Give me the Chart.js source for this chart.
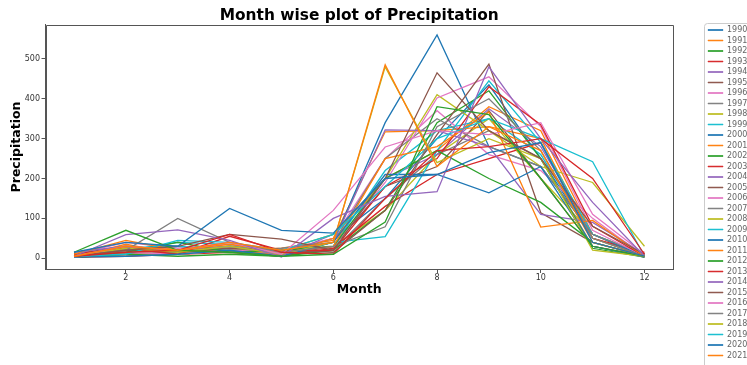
<!DOCTYPE html>
<html>
<head>
<meta charset="utf-8">
<script src="https://cdn.jsdelivr.net/npm/chart.js@4/dist/chart.umd.min.js"></script>
<style>
html,body{margin:0;padding:0;background:#fff;overflow:hidden;}
canvas{display:block;}
</style>
</head>
<body>
<canvas id="c" width="747" height="365"></canvas>
<script>
// ---- data ----
const months = [1,2,3,4,5,6,7,8,9,10,11,12];
const xTicks = [2,4,6,8,10,12];
const yTicks = [0,100,200,300,400,500];
const years = [1990,1991,1992,1993,1994,1995,1996,1997,1998,1999,2000,2001,2002,2003,2004,2005,2006,2007,2008,2009,2010,2011,2012,2013,2014,2015,2016,2017,2018,2019,2020,2021];

const p1990 = [15, 40, 30, 125, 70, 63, 200, 210, 265, 290, 40, 5];
const p1991 = [5, 30, 20, 40, 20, 40, 485, 230, 330, 270, 40, 5];
const p1992 = [15, 70, 20, 15, 5, 10, 91, 380, 360, 200, 30, 5];
const p1993 = [5, 15, 20, 60, 15, 10, 150, 270, 280, 300, 200, 10];
const p1994 = [5, 59, 71, 45, 3, 100, 155, 167, 480, 300, 140, 5];
const p1995 = [5, 20, 30, 60, 48, 20, 200, 465, 320, 250, 80, 10];
const p1996 = [5, 30, 20, 40, 10, 120, 279, 320, 310, 340, 110, 10];
const p1997 = [5, 20, 100, 40, 15, 30, 79, 330, 400, 270, 50, 5];
const p1998 = [5, 25, 15, 30, 10, 40, 480, 240, 300, 250, 20, 5];
const p1999 = [5, 10, 45, 40, 20, 60, 180, 300, 350, 300, 242, 5];
const p2000 = [3, 5, 10, 20, 5, 40, 210, 210, 164, 230, 30, 3];
const p2001 = [10, 45, 20, 35, 15, 30, 250, 280, 367, 78, 95, 5];
const p2002 = [5, 15, 40, 15, 20, 30, 200, 270, 200, 140, 40, 5];
const p2003 = [10, 25, 10, 55, 20, 20, 180, 250, 430, 335, 80, 5];
const p2004 = [15, 30, 20, 30, 10, 40, 322, 320, 280, 110, 90, 10];
const p2005 = [10, 30, 15, 25, 20, 15, 120, 310, 487, 114, 40, 5];
const p2006 = [3, 15, 10, 20, 15, 30, 190, 402, 455, 330, 70, 5];
const p2007 = [10, 25, 20, 15, 25, 40, 250, 350, 280, 230, 60, 10];
const p2008 = [3, 15, 10, 20, 20, 60, 200, 410, 320, 230, 190, 30];
const p2009 = [10, 25, 30, 20, 15, 40, 54, 270, 445, 290, 60, 10];
const p2010 = [5, 20, 15, 30, 10, 40, 340, 560, 280, 230, 60, 5];
const p2011 = [10, 20, 15, 20, 10, 50, 317, 320, 330, 300, 50, 5];
const p2012 = [2, 10, 5, 10, 5, 20, 120, 340, 420, 250, 25, 3];
const p2013 = [2, 5, 10, 15, 5, 25, 130, 210, 250, 290, 50, 15];
const p2014 = [3, 10, 15, 25, 5, 60, 200, 260, 375, 280, 60, 5];
const p2015 = [3, 15, 10, 20, 10, 30, 180, 230, 370, 200, 30, 5];
const p2016 = [10, 40, 25, 35, 20, 50, 250, 370, 260, 220, 100, 5];
const p2017 = [3, 10, 15, 20, 10, 20, 150, 260, 320, 250, 30, 5];
const p2018 = [10, 30, 20, 25, 15, 30, 120, 260, 350, 200, 60, 10];
const p2019 = [3, 20, 40, 35, 10, 30, 220, 320, 350, 260, 50, 5];
const p2020 = [2, 10, 20, 30, 15, 50, 150, 300, 435, 250, 50, 10];
const p2021 = [3, 35, 10, 20, 25, 45, 200, 270, 380, 320, 60, 2];

const series = [p1990,p1991,p1992,p1993,p1994,p1995,p1996,p1997,p1998,p1999,
  p2000,p2001,p2002,p2003,p2004,p2005,p2006,p2007,p2008,p2009,
  p2010,p2011,p2012,p2013,p2014,p2015,p2016,p2017,p2018,p2019,p2020,p2021];

const palette = ['#1f77b4','#ff7f0e','#2ca02c','#d62728','#9467bd','#8c564b','#e377c2','#7f7f7f','#bcbd22','#17becf'];

const datasets = years.map((y, i) => ({
  label: String(y),
  data: months.map((m, j) => ({x: m, y: series[i][j]})),
  borderColor: palette[i % 10],
  backgroundColor: palette[i % 10],
  borderWidth: 1.3,
  pointRadius: 0,
  pointHoverRadius: 0,
  tension: 0,
  fill: false
}));

const FONT = "'DejaVu Sans', sans-serif";
const AXIS = '#555';

const framePlugin = {
  id: 'frames',
  beforeDraw(chart) {
    const ctx = chart.ctx;
    ctx.save();
    ctx.fillStyle = '#fff';
    ctx.fillRect(0, 0, chart.width, chart.height);
    ctx.strokeStyle = '#cccccc';
    ctx.lineWidth = 1;
    ctx.beginPath();
    if (ctx.roundRect) ctx.roundRect(704.5, 23.5, 60, 360, 3); else ctx.rect(704.5, 23.5, 60, 360);
    ctx.stroke();
    ctx.restore();
  },
  afterDraw(chart) {
    const a = chart.chartArea;
    const ctx = chart.ctx;
    const l = Math.round(a.left) + 0.5, r = Math.round(a.right) + 0.5;
    const t = Math.round(a.top) + 0.5, b = Math.round(a.bottom) + 0.5;
    ctx.save();
    ctx.strokeStyle = AXIS;
    ctx.lineWidth = 1;
    ctx.beginPath();
    ctx.moveTo(l, t); ctx.lineTo(r, t); ctx.lineTo(r, b); ctx.lineTo(l, b); ctx.closePath();
    ctx.stroke();
    ctx.restore();
  }
};

new Chart(document.getElementById('c'), {
  type: 'line',
  data: { datasets },
  plugins: [framePlugin],
  options: {
    responsive: false,
    animation: false,
    devicePixelRatio: 1,
    layout: { padding: 0 },
    plugins: {
      tooltip: { enabled: false },
      title: {
        display: true,
        text: 'Month wise plot of Precipitation',
        fullSize: false,
        color: '#000',
        font: { family: FONT, size: 15.4, weight: 'bold', lineHeight: 1.2 },
        padding: { top: 6.5, bottom: 0 }
      },
      legend: {
        display: true,
        position: 'right',
        align: 'start',
        maxWidth: 41.5,
        title: { display: true, text: '', font: { family: FONT, size: 8, lineHeight: 1.2 }, padding: { top: 13.9, bottom: 0 } },
        labels: {
          boxWidth: 15,
          boxHeight: 0.5,
          padding: 2.5,
          color: '#444',
          font: { family: FONT, size: 8 },
          generateLabels: chart => chart.data.datasets.map((d, i) => ({
            text: d.label,
            fillStyle: d.borderColor,
            strokeStyle: d.borderColor,
            lineWidth: 1,
            hidden: false,
            datasetIndex: i
          }))
        }
      }
    },
    scales: {
      x: {
        type: 'linear',
        position: 'bottom',
        min: 0.45,
        max: 12.55,
        afterBuildTicks: s => { s.ticks = xTicks.map(v => ({ value: v })); },
        afterFit: s => { s.height = 96; },
        grid: { display: true, drawOnChartArea: false, drawTicks: true, tickLength: 4, color: AXIS },
        border: { display: true, color: AXIS },
        ticks: { color: '#333', font: { family: FONT, size: 8 }, padding: 0.5, maxRotation: 0, autoSkip: false, callback: v => String(v) },
        title: { display: true, text: 'Month', color: '#000', font: { family: FONT, size: 12.5, weight: 'bold', lineHeight: 1.2 }, padding: { top: 0, bottom: 67.5 } }
      },
      y: {
        type: 'linear',
        position: 'left',
        min: -27,
        max: 585,
        afterBuildTicks: s => { s.ticks = yTicks.map(v => ({ value: v })); },
        afterFit: s => { s.width = 45.5; },
        grid: { display: true, drawOnChartArea: false, drawTicks: true, tickLength: 4, color: AXIS },
        border: { display: true, color: AXIS },
        ticks: { color: '#333', font: { family: FONT, size: 8 }, padding: 1.5, autoSkip: false, callback: v => String(v) },
        title: { display: true, text: 'Precipitation', color: '#000', font: { family: FONT, size: 12.5, weight: 'bold', lineHeight: 1.2 }, padding: { top: 9.5, bottom: 0 } }
      },
      gap: {
        type: 'linear',
        position: 'right',
        display: true,
        afterFit: s => { s.width = 32.5; },
        grid: { display: false },
        border: { display: false },
        ticks: { display: false },
        title: { display: false }
      }
    }
  }
});
</script>
</body>
</html>
